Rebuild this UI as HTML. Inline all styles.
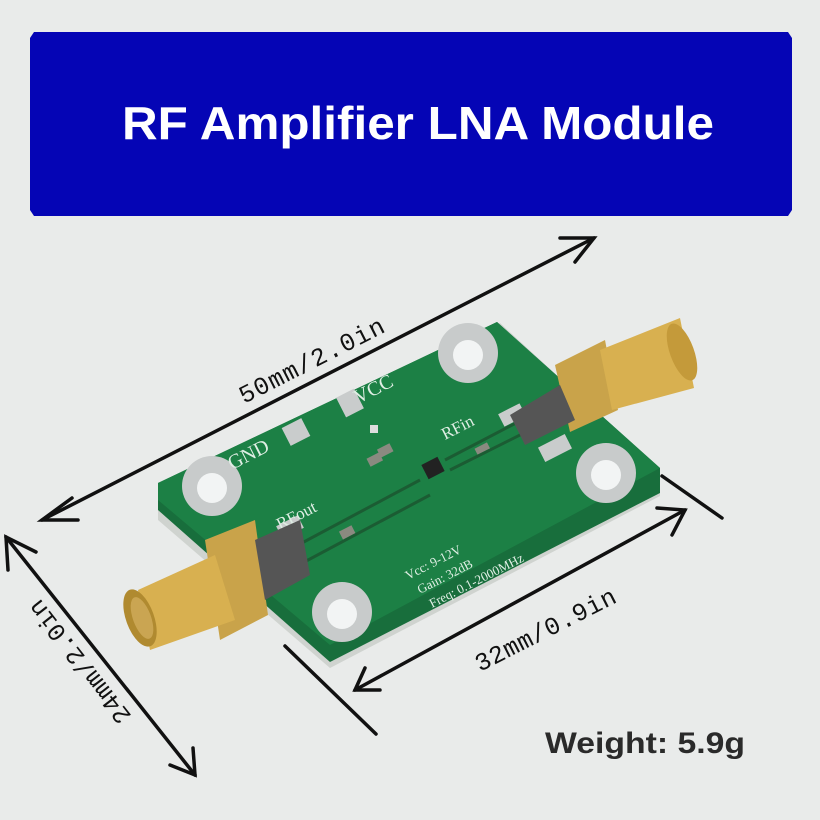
<!DOCTYPE html>
<html><head><meta charset="utf-8"><style>
html,body{margin:0;padding:0;background:#e9ebea;}
svg{display:block}
</style></head><body>
<svg width="820" height="820" viewBox="0 0 820 820" xmlns="http://www.w3.org/2000/svg">
<rect width="820" height="820" fill="#e9ebea"/>
<!-- banner -->
<path d="M34,32 H788 L792,38 V210 L788,216 H34 L30,210 V38 Z" fill="#0505b5"/>
<text x="418" y="139" font-family="Liberation Sans, sans-serif" font-weight="bold" font-size="46" fill="#fff" text-anchor="middle" textLength="592" lengthAdjust="spacingAndGlyphs">RF Amplifier LNA Module</text>

<!-- board shadow/edge -->
<polygon points="158,485 500,323 660,470 660,496 330,668 158,520" fill="#cfd3cf"/>
<polygon points="158,483 497,322 660,468 660,493 330,662 158,510" fill="#186e3c"/>
<polygon points="158,483 497,322 660,468 330,645 158,500" fill="#1c8045"/>
<!-- pads -->
<g fill="#c9cccc">
<rect x="285" y="422" width="22" height="20" transform="rotate(-27 296 432)"/>
<rect x="340" y="392" width="20" height="22" transform="rotate(-27 350 403)"/>
<rect x="500" y="408" width="24" height="14" transform="rotate(-27 512 415)"/>
<rect x="278" y="520" width="24" height="14" transform="rotate(-27 290 527)"/>
<rect x="540" y="440" width="30" height="16" transform="rotate(-27 555 448)"/>
<rect x="262" y="575" width="30" height="16" transform="rotate(-27 277 583)"/>
</g>
<g fill="#8a8a80">
<rect x="368" y="455" width="14" height="9" transform="rotate(-27 375 460)"/>
<rect x="378" y="446" width="14" height="9" transform="rotate(-27 385 450)"/>
<rect x="476" y="445" width="14" height="9" transform="rotate(-27 483 450)"/>
<rect x="340" y="528" width="14" height="9" transform="rotate(-27 347 532)"/>
<rect x="370" y="425" width="8" height="8" fill="#ddd"/>
</g>
<rect x="424" y="460" width="18" height="16" fill="#222" transform="rotate(-27 433 468)"/>
<path d="M270,560 L420,480 M280,575 L430,495 M445,460 L560,400 M450,470 L570,410" stroke="#1b5c33" stroke-width="3"/>
<!-- holes -->
<g>
<circle cx="212" cy="486" r="30" fill="#c8cbcb"/><circle cx="212" cy="488" r="15" fill="#f2f4f4"/>
<circle cx="468" cy="353" r="30" fill="#c8cbcb"/><circle cx="468" cy="355" r="15" fill="#f2f4f4"/>
<circle cx="606" cy="473" r="30" fill="#c8cbcb"/><circle cx="606" cy="475" r="15" fill="#f2f4f4"/>
<circle cx="342" cy="612" r="30" fill="#c8cbcb"/><circle cx="342" cy="614" r="15" fill="#f2f4f4"/>
</g>
<g font-family="Liberation Serif, serif" fill="#dfeee4">
<text x="232" y="470" font-size="20" transform="rotate(-27 232 470)">GND</text>
<text x="358" y="404" font-size="20" transform="rotate(-27 358 404)">VCC</text>
<text x="445" y="440" font-size="17" transform="rotate(-27 445 440)">RFin</text>
<text x="280" y="530" font-size="17" transform="rotate(-27 280 530)">RFout</text>
<text x="408" y="580" font-size="13" transform="rotate(-27 408 580)">Vcc: 9-12V</text>
<text x="420" y="594" font-size="13" transform="rotate(-27 420 594)">Gain: 32dB</text>
<text x="432" y="608" font-size="13" transform="rotate(-27 432 608)">Freq: 0.1-2000MHz</text>
</g>
<!-- connectors -->
<g>
<polygon points="555,365 605,340 618,410 570,432" fill="#c9a34a"/>
<polygon points="600,350 680,318 694,388 612,410" fill="#d8b050"/>
<ellipse cx="682" cy="352" rx="12" ry="30" fill="#c49a3a" transform="rotate(-20 682 352)"/>
<polygon points="510,415 560,385 575,420 525,445" fill="#555"/>
<polygon points="205,540 255,520 268,615 220,640" fill="#c9a34a"/>
<polygon points="138,590 215,555 235,620 150,650" fill="#d8b050"/>
<ellipse cx="140" cy="618" rx="14" ry="30" fill="#b08a30" transform="rotate(-20 140 618)"/>
<ellipse cx="142" cy="618" rx="9" ry="22" fill="#caa552" transform="rotate(-20 142 618)"/>
<polygon points="255,540 300,520 310,575 265,600" fill="#555"/>
</g>

<!-- dimension lines -->
<g stroke="#111" stroke-width="3.5" fill="none" stroke-linecap="round">
<line x1="42" y1="520" x2="594" y2="238"/>
<polyline points="72,498 42,520 78,520"/>
<polyline points="560,238 594,238 575,262"/>
<line x1="6" y1="537" x2="195" y2="775"/>
<polyline points="8,570 6,537 36,552"/>
<polyline points="170,765 195,775 193,748"/>
<line x1="355" y1="690" x2="685" y2="510"/>
<polyline points="380,690 355,690 365,668"/>
<polyline points="657,508 685,510 672,535"/>
<line x1="662" y1="476" x2="722" y2="518"/>
<line x1="285" y1="646" x2="376" y2="734"/>
</g>
<g font-family="Liberation Mono, monospace" font-size="25" fill="#111">
<text x="244" y="404" transform="rotate(-27 244 404)" textLength="160">50mm/2.0in</text>
<text x="480" y="672" transform="rotate(-27 480 672)" textLength="155">32mm/0.9in</text>
<text x="132" y="716" transform="rotate(-128 132 716)" textLength="150">24mm/2.0in</text>
</g>
<text x="545" y="753" font-family="Liberation Sans, sans-serif" font-weight="bold" font-size="30" fill="#2a2a2a" textLength="200" lengthAdjust="spacingAndGlyphs">Weight: 5.9g</text>
</svg>
</body></html>
